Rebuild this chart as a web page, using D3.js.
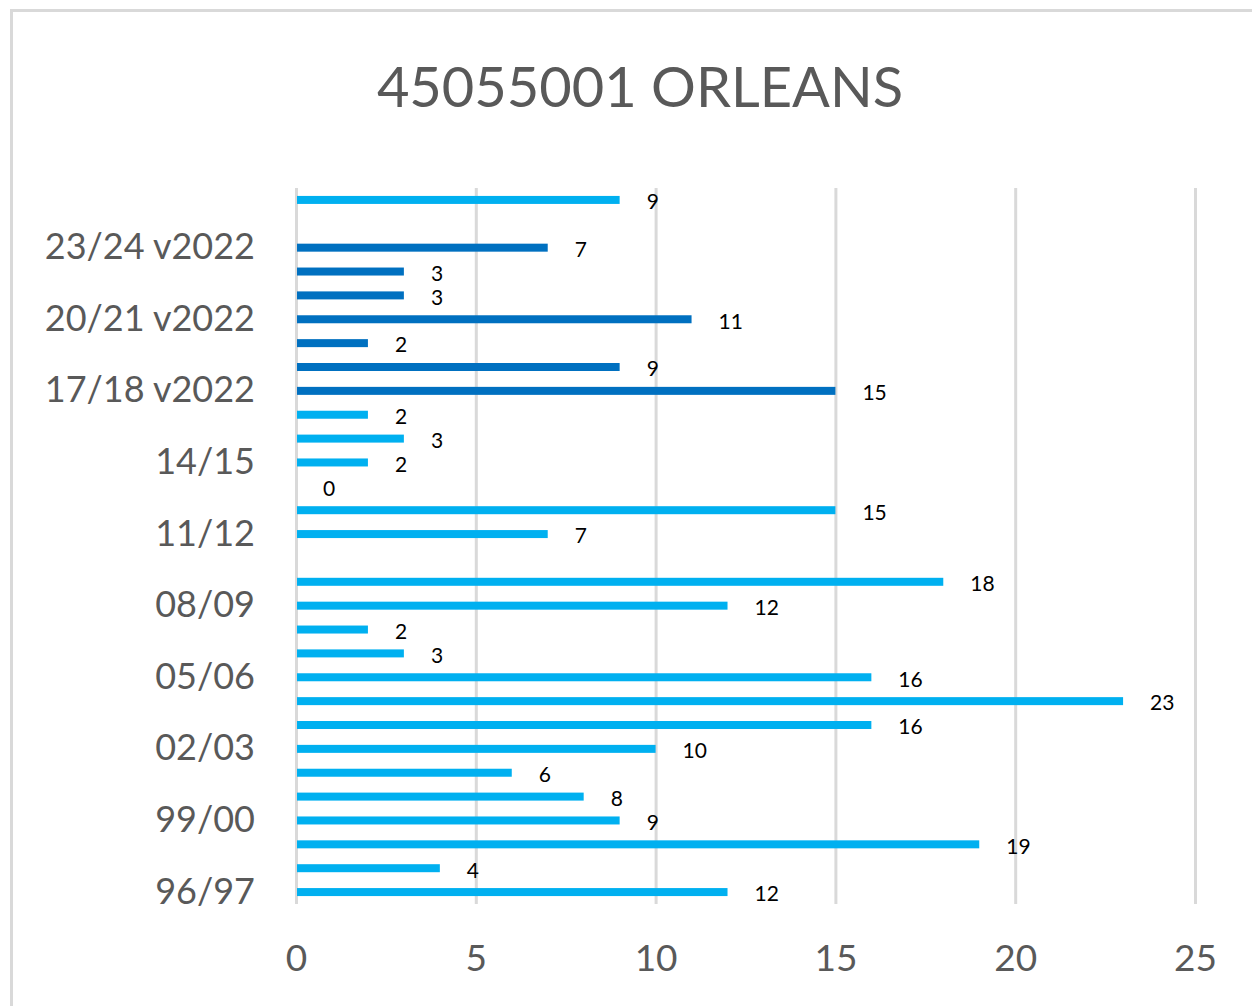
<!DOCTYPE html>
<html>
<head>
<meta charset="utf-8">
<script src="https://cdn.jsdelivr.net/npm/d3@7"></script>
<style>
  html, body { margin: 0; padding: 0; background: #fff; }
  svg { display: block; }
  text { font-family: Lato, "Open Sans", sans-serif; }
</style>
</head>
<body>
<svg id="chart" width="1252" height="1006"></svg>
<script>
// ---- data ----
const title = "45055001 ORLEANS";
const categories = ["96/97","97/98","98/99","99/00","00/01","01/02","02/03","03/04","04/05","05/06",
  "06/07","07/08","08/09","09/10","10/11","11/12","12/13","13/14","14/15","15/16",
  "16/17","17/18 v2022","18/19 v2022","19/20 v2022","20/21 v2022","21/22 v2022","22/23 v2022","23/24 v2022","24/25 v2022","24/25"];
const valuesSeries1 = [12,4,19,9,8,6,10,16,23,16,
  3,2,12,18,null,7,15,0,2,3,
  2,null,null,null,null,null,null,null,null,9];
const valuesV2022 = [null,null,null,null,null,null,null,null,null,null,
  null,null,null,null,null,null,null,null,null,null,
  null,15,9,2,11,3,3,7,null,null];
const xTicks = [0,5,10,15,20,25];
const yTickLabels = ["96/97","99/00","02/03","05/06","08/09","11/12","14/15","17/18 v2022","20/21 v2022","23/24 v2022"];

const colors = { s1: "#00B0F0", v2022: "#0070C0" };

// ---- layout ----
const svg = d3.select("#chart");
const plot = { left: 296, right: 1195, top: 188, bottom: 904 };

// chart border
svg.append("rect").attr("x", 11.5).attr("y", 10.5).attr("width", 1260).attr("height", 1010)
  .attr("fill", "none").attr("stroke", "#d9d9d9").attr("stroke-width", 3);

const x = d3.scaleLinear().domain([0, 25]).range([plot.left, plot.right]);
const y = d3.scaleBand().domain(categories).range([plot.bottom, plot.top]);

// x axis + gridlines
const xAxis = svg.append("g").attr("transform", `translate(0,${plot.bottom})`)
  .call(d3.axisBottom(x).tickValues(xTicks).tickSizeInner(-(plot.bottom - plot.top)).tickSizeOuter(0).tickPadding(0));
xAxis.select(".domain").remove();
xAxis.selectAll(".tick line").attr("stroke", "#d9d9d9").attr("stroke-width", 3);
xAxis.selectAll(".tick text").attr("y", 67).attr("dy", null)
  .attr("fill", "#595959").attr("font-size", 37);

// y axis labels
const yAxis = svg.append("g").attr("transform", `translate(${plot.left - 41},0)`)
  .call(d3.axisLeft(y).tickValues(yTickLabels).tickSize(0).tickPadding(0));
yAxis.select(".domain").remove();
yAxis.selectAll(".tick text").attr("fill", "#595959").attr("font-size", 36)
  .attr("dy", "0.32em");

// bars
const bh = 8;
const rows = categories.map((c, i) => ({ c, v1: valuesSeries1[i], v2: valuesV2022[i] }));
const barData = [];
rows.forEach(r => {
  if (r.v1 !== null) barData.push({ c: r.c, v: r.v1, color: colors.s1 });
  if (r.v2 !== null) barData.push({ c: r.c, v: r.v2, color: colors.v2022 });
});

svg.append("g").selectAll("rect").data(barData).join("rect")
  .attr("x", x(0) + 1)
  .attr("y", d => y(d.c) + y.bandwidth() / 2 - bh / 2)
  .attr("width", d => Math.max(0, x(d.v) - x(0) - 1))
  .attr("height", bh)
  .attr("fill", d => d.color);

// data labels
svg.append("g").selectAll("text").data(barData).join("text")
  .attr("x", d => x(d.v) + 27)
  .attr("y", d => y(d.c) + y.bandwidth() / 2 + 2)
  .attr("dy", "0.35em")
  .attr("font-size", 21)
  .attr("fill", "#000")
  .text(d => d.v);

// title
svg.append("text").attr("x", 640).attr("y", 107).attr("text-anchor", "middle")
  .attr("font-size", 56).attr("fill", "#595959").text(title);
</script>
</body>
</html>
